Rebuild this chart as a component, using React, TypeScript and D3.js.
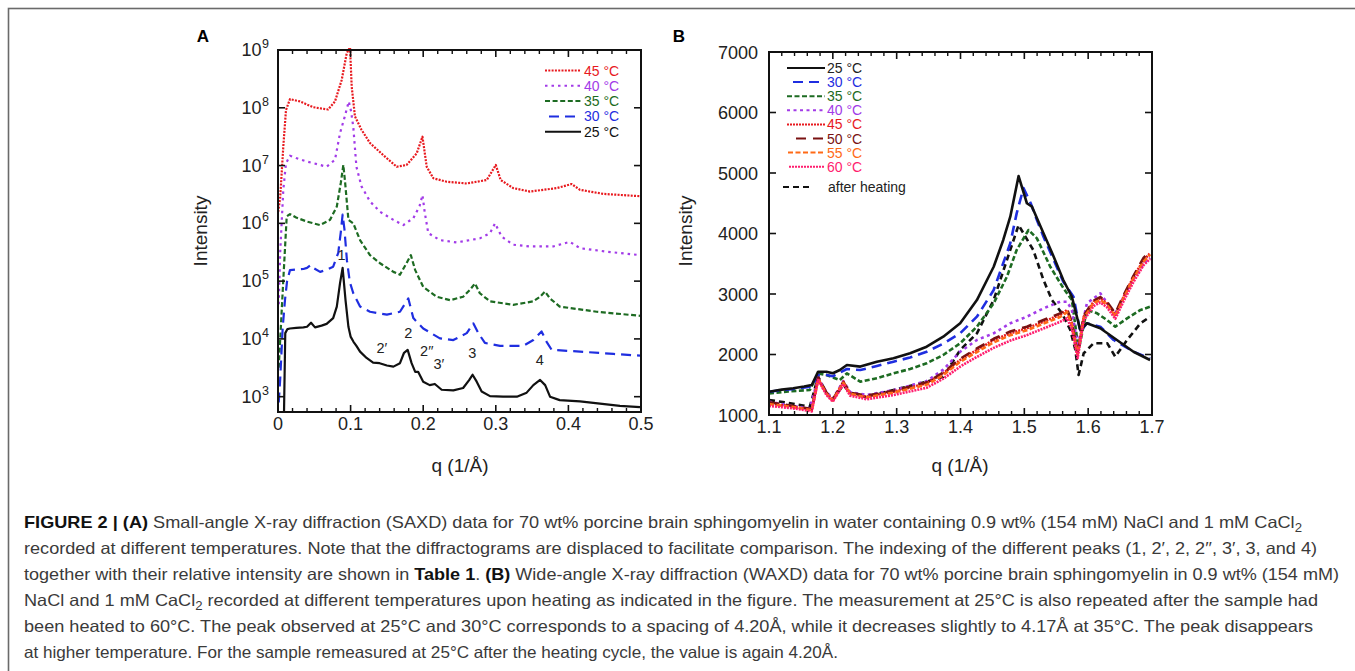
import React from "react";
import * as d3 from "d3";

// ---------- Panel A (SAXD) data: [q (1/Å), log10(Intensity)] ----------
const saxsTicksX = [0, 0.1, 0.2, 0.3, 0.4, 0.5];
const saxsDecades = [3, 4, 5, 6, 7, 8, 9];

const saxs25 = [
  [0.008, 2.5], [0.010, 4.10], [0.013, 4.17], [0.0165, 4.18], [0.025, 4.19], [0.035, 4.20], [0.040, 4.21],
  [0.0455, 4.28], [0.051, 4.20], [0.060, 4.23], [0.067, 4.26], [0.076, 4.36], [0.081, 4.56], [0.0854, 4.96],
  [0.089, 5.23], [0.093, 4.67], [0.097, 4.21], [0.100, 4.04], [0.104, 3.95], [0.108, 3.88], [0.113, 3.78],
  [0.122, 3.67], [0.131, 3.59], [0.140, 3.58], [0.150, 3.54], [0.159, 3.52], [0.168, 3.58], [0.1736, 3.76],
  [0.1786, 3.81], [0.184, 3.58], [0.189, 3.43], [0.193, 3.43], [0.200, 3.26], [0.209, 3.20], [0.216, 3.22],
  [0.2254, 3.12], [0.2415, 3.11], [0.255, 3.15], [0.2635, 3.29], [0.268, 3.38], [0.2737, 3.26], [0.2805, 3.09],
  [0.292, 3.01], [0.310, 3.00], [0.329, 3.00], [0.3425, 3.07], [0.3517, 3.20], [0.361, 3.29], [0.368, 3.20],
  [0.3747, 3.00], [0.388, 2.94], [0.416, 2.92], [0.4435, 2.88], [0.471, 2.84], [0.4986, 2.82],
];
const saxs30 = [
  [0.001, 2.9], [0.003, 3.3], [0.0065, 4.2], [0.0096, 4.67], [0.0125, 5.0], [0.0165, 5.19], [0.025, 5.20],
  [0.035, 5.21], [0.040, 5.23], [0.045, 5.28], [0.050, 5.22], [0.058, 5.16], [0.068, 5.20], [0.076, 5.25],
  [0.083, 5.49], [0.0865, 5.85], [0.089, 6.15], [0.0915, 5.9], [0.095, 5.35], [0.099, 4.98], [0.1037, 4.79],
  [0.113, 4.56], [0.1267, 4.47], [0.150, 4.42], [0.168, 4.47], [0.1795, 4.70], [0.1864, 4.36], [0.200, 4.18],
  [0.223, 4.01], [0.2415, 3.98], [0.260, 4.10], [0.269, 4.27], [0.276, 4.10], [0.285, 3.93], [0.3058, 3.88],
  [0.338, 3.88], [0.3517, 3.98], [0.363, 4.13], [0.370, 3.95], [0.377, 3.81], [0.416, 3.78], [0.462, 3.74],
  [0.4986, 3.71],
];
const saxs35 = [
  [0.001, 3.5], [0.003, 3.98], [0.0073, 5.02], [0.012, 6.12], [0.0165, 6.16], [0.025, 6.10], [0.040, 6.03],
  [0.058, 5.97], [0.0716, 6.06], [0.081, 6.29], [0.0865, 6.7], [0.090, 7.01], [0.0925, 6.7], [0.097, 6.06],
  [0.1037, 6.00], [0.113, 5.71], [0.1267, 5.45], [0.1405, 5.31], [0.159, 5.16], [0.168, 5.11], [0.177, 5.31],
  [0.183, 5.45], [0.189, 5.19], [0.200, 4.90], [0.2186, 4.73], [0.237, 4.67], [0.255, 4.73], [0.2645, 4.85],
  [0.2713, 4.96], [0.278, 4.79], [0.292, 4.65], [0.324, 4.59], [0.3517, 4.65], [0.361, 4.73], [0.3678, 4.82],
  [0.3747, 4.70], [0.388, 4.56], [0.439, 4.47], [0.4986, 4.40],
];
const saxs40 = [
  [0.001, 4.6], [0.003, 5.49], [0.0073, 6.58], [0.011, 7.04], [0.0165, 7.17], [0.025, 7.13], [0.040, 7.07],
  [0.055, 7.02], [0.067, 6.98], [0.0785, 7.10], [0.0854, 7.56], [0.092, 7.85], [0.0975, 8.11], [0.1005, 7.95],
  [0.1037, 7.67], [0.108, 6.98], [0.115, 6.64], [0.1267, 6.38], [0.1405, 6.20], [0.159, 6.06], [0.1726, 5.97],
  [0.1864, 6.09], [0.195, 6.30], [0.199, 6.49], [0.202, 6.2], [0.207, 5.83], [0.223, 5.71], [0.246, 5.67],
  [0.278, 5.74], [0.292, 5.83], [0.299, 6.00], [0.308, 5.77], [0.324, 5.63], [0.347, 5.60], [0.379, 5.60],
  [0.402, 5.68], [0.416, 5.57], [0.4527, 5.51], [0.4986, 5.45],
];
const saxs45 = [
  [0.0003, 6.2], [0.003, 6.45], [0.0073, 7.33], [0.011, 7.96], [0.0165, 8.15], [0.030, 8.11], [0.0486, 8.01],
  [0.069, 7.97], [0.0785, 8.11], [0.0877, 8.48], [0.0946, 8.94], [0.0992, 9.05], [0.1015, 8.37], [0.106, 7.85],
  [0.115, 7.62], [0.1267, 7.39], [0.145, 7.18], [0.1635, 6.98], [0.177, 7.01], [0.191, 7.21], [0.199, 7.50],
  [0.2048, 6.98], [0.214, 6.78], [0.2324, 6.72], [0.260, 6.69], [0.2875, 6.75], [0.300, 7.01], [0.3067, 6.75],
  [0.324, 6.61], [0.347, 6.55], [0.384, 6.61], [0.4045, 6.68], [0.416, 6.58], [0.448, 6.51], [0.4986, 6.47],
];

const saxsPeakLabels = ["1", "2′", "2", "2′′", "3′", "3", "4"];
const saxsPeakQ = [0.0875, 0.143, 0.1795, 0.205, 0.2215, 0.2675, 0.3605];
const saxsPeakLog = [5.36, 3.75, 4.02, 3.71, 3.48, 3.67, 3.54];

// ---------- Panel B (WAXD) data: [q (1/Å), Intensity] ----------
const waxsTicksX = [1.1, 1.2, 1.3, 1.4, 1.5, 1.6, 1.7];
const waxsTicksY = [1000, 2000, 3000, 4000, 5000, 6000, 7000];

const waxs25 = [
  [1.1, 1385], [1.12, 1420], [1.138, 1441], [1.155, 1470], [1.167, 1496], [1.177, 1716], [1.19, 1716],
  [1.2, 1690], [1.211, 1744], [1.222, 1826], [1.243, 1800], [1.269, 1881], [1.295, 1937], [1.321, 2020],
  [1.347, 2129], [1.373, 2294], [1.3995, 2516], [1.4257, 2900], [1.452, 3451], [1.467, 3893], [1.478, 4278],
  [1.491, 4950], [1.504, 4500], [1.512, 4443], [1.53, 4003], [1.546, 3617], [1.561, 3231], [1.5745, 2955],
  [1.5876, 2405], [1.598, 2516], [1.619, 2433], [1.645, 2240], [1.671, 2046], [1.697, 1909],
];
const waxs30 = [
  [1.1, 1385], [1.12, 1410], [1.138, 1430], [1.167, 1470], [1.177, 1660], [1.19, 1661], [1.2, 1640],
  [1.211, 1700], [1.222, 1760], [1.243, 1744], [1.269, 1810], [1.295, 1881], [1.321, 1950], [1.347, 2046],
  [1.373, 2180], [1.3995, 2350], [1.4257, 2625], [1.452, 3066], [1.478, 3838], [1.488, 4333], [1.4987, 4750],
  [1.51, 4500], [1.5197, 4223], [1.53, 3947], [1.546, 3562], [1.561, 3203], [1.577, 2955], [1.5876, 2377],
  [1.598, 2516], [1.619, 2460], [1.64, 2240], [1.671, 2046], [1.697, 1937],
];
const waxs35 = [
  [1.1, 1358], [1.13, 1390], [1.164, 1413], [1.177, 1689], [1.19, 1661], [1.211, 1578], [1.222, 1689],
  [1.243, 1550], [1.27, 1610], [1.295, 1689], [1.321, 1760], [1.347, 1854], [1.373, 1992], [1.3995, 2185],
  [1.4257, 2460], [1.452, 2846], [1.4727, 3286], [1.488, 3727], [1.5066, 4058], [1.5197, 3920], [1.5406, 3451],
  [1.5614, 3094], [1.5745, 2900], [1.585, 2074], [1.598, 2736], [1.614, 2681], [1.6295, 2570], [1.6425, 2460],
  [1.661, 2598], [1.682, 2736], [1.697, 2790],
];
const waxs40 = [
  [1.1, 1220], [1.13, 1160], [1.164, 1110], [1.177, 1610], [1.19, 1380], [1.2, 1270], [1.2165, 1560],
  [1.227, 1380], [1.253, 1330], [1.295, 1410], [1.347, 1560], [1.373, 1750], [1.3995, 2046], [1.4257, 2240],
  [1.452, 2350], [1.478, 2516], [1.504, 2625], [1.53, 2763], [1.556, 2873], [1.567, 2873], [1.5745, 2736],
  [1.5835, 2129], [1.598, 2846], [1.619, 3011], [1.634, 2790], [1.6425, 2681], [1.6555, 2950], [1.671, 3250],
  [1.687, 3500], [1.697, 3600],
];
const waxs45 = [
  [1.1, 1193], [1.138, 1138], [1.167, 1083], [1.177, 1606], [1.19, 1358], [1.2, 1248], [1.2165, 1550],
  [1.227, 1358], [1.253, 1303], [1.295, 1385], [1.347, 1523], [1.373, 1689], [1.3995, 1909], [1.4257, 2074],
  [1.452, 2240], [1.478, 2350], [1.504, 2433], [1.53, 2543], [1.556, 2653], [1.567, 2736], [1.5745, 2516],
  [1.5835, 2020], [1.593, 2625], [1.6085, 2873], [1.619, 2928], [1.6295, 2846], [1.6425, 2653], [1.6555, 2955],
  [1.671, 3286], [1.687, 3562], [1.697, 3672],
];
const waxs50 = [
  [1.1, 1210], [1.138, 1150], [1.167, 1100], [1.177, 1620], [1.19, 1370], [1.2, 1260], [1.2165, 1540],
  [1.227, 1370], [1.253, 1320], [1.295, 1400], [1.347, 1540], [1.373, 1700], [1.3995, 1930], [1.4257, 2100],
  [1.452, 2260], [1.478, 2380], [1.504, 2460], [1.53, 2570], [1.556, 2680], [1.567, 2750], [1.5745, 2530],
  [1.5835, 2000], [1.593, 2640], [1.6085, 2890], [1.619, 2950], [1.6295, 2870], [1.6425, 2680], [1.6555, 2980],
  [1.671, 3300], [1.687, 3600], [1.697, 3700],
];
const waxs55 = [
  [1.1, 1180], [1.138, 1130], [1.167, 1080], [1.177, 1590], [1.19, 1350], [1.2, 1240], [1.2165, 1530],
  [1.227, 1350], [1.253, 1290], [1.295, 1370], [1.347, 1500], [1.373, 1660], [1.3995, 1880], [1.4257, 2040],
  [1.452, 2200], [1.478, 2320], [1.504, 2400], [1.53, 2510], [1.556, 2620], [1.567, 2700], [1.5745, 2480],
  [1.5835, 1990], [1.593, 2600], [1.6085, 2850], [1.619, 2900], [1.6295, 2820], [1.6425, 2630], [1.6555, 2930],
  [1.671, 3260], [1.687, 3540], [1.697, 3650],
];
const waxs60 = [
  [1.1, 1150], [1.138, 1110], [1.167, 1060], [1.177, 1580], [1.19, 1330], [1.2, 1220], [1.2165, 1510],
  [1.227, 1320], [1.253, 1260], [1.295, 1330], [1.347, 1450], [1.373, 1600], [1.3995, 1800], [1.4257, 1960],
  [1.452, 2110], [1.478, 2230], [1.504, 2320], [1.53, 2430], [1.556, 2540], [1.567, 2600], [1.5745, 2420],
  [1.5835, 1940], [1.593, 2560], [1.6085, 2800], [1.619, 2860], [1.6295, 2780], [1.6425, 2590], [1.6555, 2880],
  [1.671, 3200], [1.687, 3480], [1.697, 3580],
];
const waxsAfter = [
  [1.1, 1248], [1.13, 1200], [1.164, 1138], [1.177, 1633], [1.19, 1360], [1.2, 1248], [1.2165, 1500],
  [1.227, 1360], [1.25, 1300], [1.295, 1413], [1.347, 1550], [1.373, 1633], [1.3995, 2074], [1.4257, 2350],
  [1.452, 2900], [1.4727, 3562], [1.491, 4140], [1.496, 4050], [1.514, 3727], [1.53, 3231], [1.5433, 2900],
  [1.559, 2681], [1.572, 2405], [1.58, 2074], [1.585, 1661], [1.593, 2020], [1.6085, 2185], [1.63, 2185],
  [1.6425, 1964], [1.661, 2240], [1.682, 2516], [1.697, 2625],
];

// ---------- caption ----------
type Seg = { t: string; b?: boolean; sub?: boolean };
const captionLines: Seg[][] = [
  [{ t: "FIGURE 2 | (A)", b: true }, { t: " Small-angle X-ray diffraction (SAXD) data for 70 wt% porcine brain sphingomyelin in water containing 0.9 wt% (154 mM) NaCl and 1 mM CaCl" }, { t: "2", sub: true }],
  [{ t: "recorded at different temperatures. Note that the diffractograms are displaced to facilitate comparison. The indexing of the different peaks (1, 2′, 2, 2′′, 3′, 3, and 4)" }],
  [{ t: "together with their relative intensity are shown in " }, { t: "Table 1", b: true }, { t: ". " }, { t: "(B)", b: true }, { t: " Wide-angle X-ray diffraction (WAXD) data for 70 wt% porcine brain sphingomyelin in 0.9 wt% (154 mM)" }],
  [{ t: "NaCl and 1 mM CaCl" }, { t: "2", sub: true }, { t: " recorded at different temperatures upon heating as indicated in the figure. The measurement at 25°C is also repeated after the sample had" }],
  [{ t: "been heated to 60°C. The peak observed at 25°C and 30°C corresponds to a spacing of 4.20Å, while it decreases slightly to 4.17Å at 35°C. The peak disappears" }],
  [{ t: "at higher temperature. For the sample remeasured at 25°C after the heating cycle, the value is again 4.20Å." }],
];
const captionWidths = [1278, 1293, 1315, 1294, 1289, 814];

// ---------- styles ----------
const C = {
  red: "#e8191e", purple: "#a23be8", green: "#1d6b22", blue: "#1f2ee0", black: "#111111",
  darkred: "#7a1212", orange: "#ff6a16", pink: "#ff1d6e",
};

const saxsSeries = [
  { label: "45 °C", data: saxs45, color: C.red, dash: "2,1.3", lx0: 545 },
  { label: "40 °C", data: saxs40, color: C.purple, dash: "2.5,4", lx0: 545 },
  { label: "35 °C", data: saxs35, color: C.green, dash: "5,2.6", lx0: 545 },
  { label: "30 °C", data: saxs30, color: C.blue, dash: "10,6", lx0: 549 },
  { label: "25 °C", data: saxs25, color: C.black, dash: "", lx0: 545 },
];

const waxsSeries = [
  { label: "25 °C", data: waxs25, color: C.black, dash: "", lx0: 787 },
  { label: "30 °C", data: waxs30, color: C.blue, dash: "10,6", lx0: 793 },
  { label: "35 °C", data: waxs35, color: C.green, dash: "5,2.5", lx0: 787 },
  { label: "40 °C", data: waxs40, color: C.purple, dash: "3,3.5", lx0: 787 },
  { label: "45 °C", data: waxs45, color: C.red, dash: "2,1", lx0: 787 },
  { label: "50 °C", data: waxs50, color: C.darkred, dash: "10,7", lx0: 796 },
  { label: "55 °C", data: waxs55, color: C.orange, dash: "5,2.5", lx0: 788 },
  { label: "60 °C", data: waxs60, color: C.pink, dash: "2,1", lx0: 789 },
  { label: "after heating", data: waxsAfter, color: C.black, dash: "6,4", lx0: 783 },
];
const waxsDrawOrder = [8, 2, 1, 0, 3, 4, 5, 6, 7];

const FONT = "'Liberation Sans', Arial, Helvetica, sans-serif";

function PanelA() {
  const L = 278, R = 641, T = 50, B = 412;
  const x = d3.scaleLinear().domain([0, 0.5]).range([L, R]);
  const y = d3.scaleLog().domain([Math.pow(10, 2.735), 1e9]).range([B, T]);
  const line = d3.line<number[]>().x((d) => x(d[0])).y((d) => y(Math.pow(10, d[1])));
  const minor = d3.range(0, 0.5001, 0.02).filter((v) => Math.abs(v * 10 - Math.round(v * 10)) > 1e-6);
  return (
    <g>
      <defs>
        <clipPath id="clipA"><rect x={L} y={T - 2} width={R - L} height={B - T + 2} /></clipPath>
      </defs>
      <text x={203} y={41.5} textAnchor="middle" fontSize={17} fontWeight="bold" fontFamily={FONT}>A</text>
      <g clipPath="url(#clipA)">
        {saxsSeries.map((s) => (
          <path key={s.label} d={line(s.data as number[][]) || ""} fill="none" stroke={s.color}
            strokeWidth={2.2} strokeDasharray={s.dash} strokeLinejoin="round" />
        ))}
      </g>
      <rect x={L} y={T} width={R - L} height={B - T} fill="none" stroke="#111" strokeWidth={2} />
      {saxsTicksX.map((v) => (
        <g key={"xa" + v}>
          <line x1={x(v)} x2={x(v)} y1={B} y2={B - 7} stroke="#111" strokeWidth={1.6} />
          <line x1={x(v)} x2={x(v)} y1={T} y2={T + 7} stroke="#111" strokeWidth={1.6} />
          <text x={x(v)} y={430} textAnchor="middle" fontSize={18} fontFamily={FONT} fill="#222">{v === 0 ? "0" : String(v)}</text>
        </g>
      ))}
      {minor.map((v) => (
        <g key={"xm" + v}>
          <line x1={x(v)} x2={x(v)} y1={B} y2={B - 4} stroke="#111" strokeWidth={1.4} />
          <line x1={x(v)} x2={x(v)} y1={T} y2={T + 4} stroke="#111" strokeWidth={1.4} />
        </g>
      ))}
      {saxsDecades.map((e) => (
        <g key={"ya" + e}>
          <line x1={L} x2={L + 7} y1={y(Math.pow(10, e))} y2={y(Math.pow(10, e))} stroke="#111" strokeWidth={1.6} />
          <line x1={R} x2={R - 7} y1={y(Math.pow(10, e))} y2={y(Math.pow(10, e))} stroke="#111" strokeWidth={1.6} />
          <text x={261.5} y={y(Math.pow(10, e)) + 6} textAnchor="end" fontSize={18} fontFamily={FONT} fill="#222">10</text>
          <text x={262} y={y(Math.pow(10, e)) - 2} textAnchor="start" fontSize={12.5} fontFamily={FONT} fill="#222">{e}</text>
        </g>
      ))}
      <text transform={`translate(207,231) rotate(-90)`} textAnchor="middle" fontSize={19} fontFamily={FONT} fill="#222">Intensity</text>
      <text x={460} y={472} textAnchor="middle" fontSize={19} fontFamily={FONT} fill="#222">q (1/Å)</text>
      {saxsPeakLabels.map((t, i) => (
        <text key={"pk" + i} x={x(saxsPeakQ[i])} y={y(Math.pow(10, saxsPeakLog[i]))} textAnchor="middle"
          fontSize={14.5} fontFamily={FONT} fill="#222">{t}</text>
      ))}
      {saxsSeries.map((s, i) => {
        const yy = 70.5 + i * 15.3;
        return (
          <g key={"lg" + i}>
            <line x1={s.lx0} x2={581} y1={yy} y2={yy} stroke={s.color} strokeWidth={2} strokeDasharray={s.dash} />
            <text x={584} y={yy + 5} fontSize={14} fontFamily={FONT} fill={s.color}>{s.label}</text>
          </g>
        );
      })}
    </g>
  );
}

function PanelB() {
  const L = 769, R = 1152, T = 52, B = 415;
  const x = d3.scaleLinear().domain([1.1, 1.7]).range([L, R]);
  const y = d3.scaleLinear().domain([1000, 7000]).range([B, T]);
  const line = d3.line<number[]>().x((d) => x(d[0])).y((d) => y(d[1]));
  const minor = d3.range(1.1, 1.7001, 0.02).filter((v) => Math.abs(v * 10 - Math.round(v * 10)) > 1e-6);
  return (
    <g>
      <defs>
        <clipPath id="clipB"><rect x={L} y={T} width={R - L} height={B - T} /></clipPath>
      </defs>
      <text x={679} y={41.5} textAnchor="middle" fontSize={17} fontWeight="bold" fontFamily={FONT}>B</text>
      <g clipPath="url(#clipB)">
        {waxsDrawOrder.map((i) => {
          const s = waxsSeries[i];
          return (
            <path key={s.label} d={line(s.data as number[][]) || ""} fill="none" stroke={s.color}
              strokeWidth={2.6} strokeDasharray={s.dash} strokeLinejoin="round" />
          );
        })}
      </g>
      <rect x={L} y={T} width={R - L} height={B - T} fill="none" stroke="#111" strokeWidth={2} />
      {waxsTicksX.map((v) => (
        <g key={"xb" + v}>
          <line x1={x(v)} x2={x(v)} y1={B} y2={B - 7} stroke="#111" strokeWidth={1.6} />
          <line x1={x(v)} x2={x(v)} y1={T} y2={T + 7} stroke="#111" strokeWidth={1.6} />
          <text x={x(v)} y={433} textAnchor="middle" fontSize={18} fontFamily={FONT} fill="#222">{v.toFixed(1)}</text>
        </g>
      ))}
      {minor.map((v) => (
        <g key={"xbm" + v}>
          <line x1={x(v)} x2={x(v)} y1={B} y2={B - 4} stroke="#111" strokeWidth={1.4} />
          <line x1={x(v)} x2={x(v)} y1={T} y2={T + 4} stroke="#111" strokeWidth={1.4} />
        </g>
      ))}
      {waxsTicksY.map((v) => (
        <g key={"yb" + v}>
          <line x1={L} x2={L + 7} y1={y(v)} y2={y(v)} stroke="#111" strokeWidth={1.6} />
          <line x1={R} x2={R - 7} y1={y(v)} y2={y(v)} stroke="#111" strokeWidth={1.6} />
          <text x={758} y={y(v) + 6.5} textAnchor="end" fontSize={18} fontFamily={FONT} fill="#222">{v}</text>
        </g>
      ))}
      <text transform={`translate(692,231) rotate(-90)`} textAnchor="middle" fontSize={19} fontFamily={FONT} fill="#222">Intensity</text>
      <text x={960} y={472} textAnchor="middle" fontSize={19} fontFamily={FONT} fill="#222">q (1/Å)</text>
      {waxsSeries.map((s, i) => {
        const yy = i < 8 ? 68 + i * 14.1 : 187;
        const x1 = i < 8 ? 825 : 813;
        return (
          <g key={"lgb" + i}>
            <line x1={s.lx0} x2={x1} y1={yy} y2={yy} stroke={s.color} strokeWidth={2} strokeDasharray={s.dash} />
            <text x={i < 8 ? 827 : 828} y={yy + 5} fontSize={14} fontFamily={FONT} fill={s.color === C.black ? "#222" : s.color}>{s.label}</text>
          </g>
        );
      })}
    </g>
  );
}

function Caption() {
  return (
    <g>
      {captionLines.map((segs, i) => (
        <text key={"cap" + i} x={24} y={528 + i * 26} fontSize={16.5} fontFamily={FONT} fill="#3a3a3a"
          textLength={captionWidths[i]} lengthAdjust="spacingAndGlyphs">
          {segs.map((s, j) =>
            s.sub ? (
              <tspan key={j} fontSize={12} dy={4}>{s.t}</tspan>
            ) : (
              <tspan key={j} fontWeight={s.b ? "bold" : "normal"} fill={s.b ? "#111" : "#3a3a3a"}
                dy={j > 0 && segs[j - 1].sub ? -4 : 0}>{s.t}</tspan>
            )
          )}
        </text>
      ))}
    </g>
  );
}

export default function App() {
  return (
    <svg width={1355} height={671} viewBox="0 0 1355 671"
      style={{ position: "absolute", left: 0, top: 0, display: "block", background: "#fff" }}>
      <rect x={0} y={0} width={1355} height={671} fill="#fff" />
      <rect x={8.5} y={8.5} width={1400} height={700} fill="none" stroke="#6a6a6a" strokeWidth={1.6} />
      <PanelA />
      <PanelB />
      <Caption />
    </svg>
  );
}
